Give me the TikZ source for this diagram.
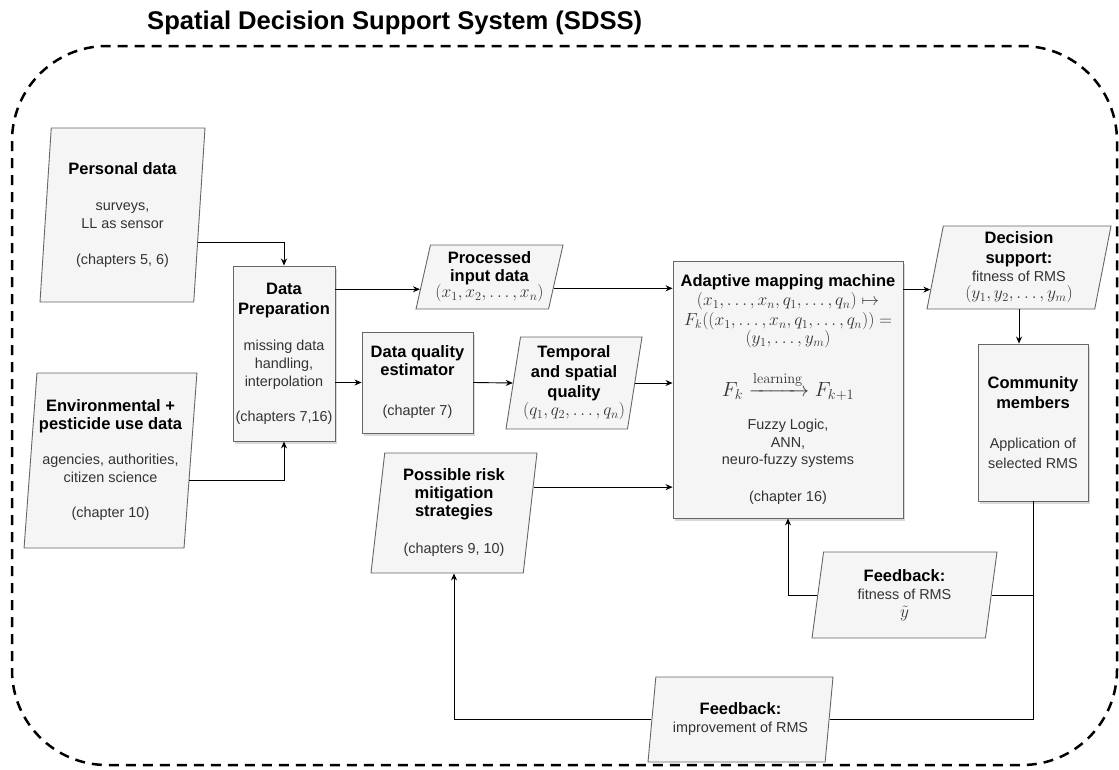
\RequirePackage{fix-cm}
\documentclass[tikz,border=0pt]{standalone}
\usepackage[no-math]{fontspec}
\setmainfont{Liberation Sans}
\usepackage{amsmath}
\usetikzlibrary{shapes.geometric,arrows.meta,shadows}
\definecolor{boxfill}{HTML}{F5F5F5}
\definecolor{boxline}{HTML}{666666}
\definecolor{bodytext}{HTML}{333333}
% heading lines inside the boxes
\newcommand{\hd}{\fontsize{16.5}{19}\selectfont\bfseries\color{black}}
% formula lines
\newcommand{\mth}{\fontsize{17.5}{18}\selectfont}

\begin{document}
\begin{tikzpicture}[x=1pt,y=-1pt,
  every node/.style={align=center,font=\fontsize{14.4}{18}\selectfont,text=bodytext,inner sep=2pt},
  stage/.style={rectangle,draw=boxline,fill=boxfill,line width=0.9pt,drop shadow={shadow xshift=2pt,shadow yshift=-2.5pt,opacity=0.3}},
  dataio/.style={trapezium,trapezium stretches body,draw=boxline,fill=boxfill,line width=0.9pt,trapezium left angle=#1,trapezium right angle={180-#1}},
  link/.style={line width=0.9pt,black},
  >={Stealth[length=7pt,width=6pt]}]
  \useasboundingbox (0,0) rectangle (1119,769);

  % system border
  \node[font=\fontsize{25.6}{30}\selectfont\bfseries,text=black,anchor=base west,inner sep=0pt] (title) at (147,29) {Spatial Decision Support System (SDSS)};
  \draw[line width=2.5pt,dash pattern=on 10pt off 7pt,rounded corners=95pt] (12,46) rectangle (1117,765);

  % inputs
  \node[dataio=84.1,minimum width=165,minimum height=174] (pers) at (122.5,215) {{\hd Personal data}\\[18pt]surveys,\\LL as sensor\\[18pt](chapters 5, 6)};
  \node[dataio=84.1,minimum width=165,minimum height=175] (env) at (110.5,460.5) {{\hd Environmental +}\\{\hd pesticide use data}\\[17pt]agencies, authorities,\\citizen science\\[17pt](chapter 10)};

  % processing chain
  \node[stage,minimum width=102,minimum height=175] (prep) at (284,353.5) {{\hd Data}\\[2pt]{\hd Preparation}\\[18pt]missing data\\handling,\\interpolation\\[17pt](chapters 7,16)};
  \node[dataio=75.1,minimum width=147,minimum height=64] (indata) at (489.5,277) {{\hd Processed}\\{\hd input data}\\[-2pt]{\mth$(x_1,x_2,\ldots,x_n)$}};
  \node[stage,minimum width=111,minimum height=101] (dqe) at (417.5,382.5) {{\hd Data quality}\\{\hd estimator}\\[22pt](chapter 7)};
  \node[dataio=79.5,minimum width=136,minimum height=92] (temp) at (574,383) {{\hd Temporal}\\[2pt]{\hd and spatial}\\[2pt]{\hd quality}\\[0pt]{\mth$(q_1,q_2,\ldots,q_n)$}};
  \node[dataio=81.5,minimum width=166,minimum height=120] (risk) at (454,513) {{\hd Possible risk}\\{\hd mitigation}\\{\hd strategies}\\[19pt](chapters 9, 10)};

  \node[stage,minimum width=230,minimum height=257] (amm) at (788,389.5) {{\hd Adaptive mapping machine}\\[1pt]
    {\mth$(x_1,\ldots,x_n,q_1,\ldots,q_n)\mapsto$}\\[2pt]
    {\mth$F_k((x_1,\ldots,x_n,q_1,\ldots,q_n))=$}\\[0pt]
    {\mth$(y_1,\ldots,y_m)$}\\[22pt]
    {\fontsize{20.5}{20}\selectfont$F_k\xrightarrow{\mathrm{learning}}F_{k+1}$}\\[15pt]
    Fuzzy Logic,\\ANN,\\neuro-fuzzy systems\\[18pt]
    (chapter 16)};

  % outputs and feedback
  \node[dataio=77.8,minimum width=184,minimum height=83] (dec) at (1019,267.5) {{\hd Decision}\\[2pt]{\hd support:}\\fitness of RMS\\[-1pt]{\mth$(y_1,y_2,\ldots,y_m)$}};
  \node[stage,minimum width=110,minimum height=157] (comm) at (1033,422.5) {{\hd Community}\\[2pt]{\hd members}\\[22pt]Application of\\[2pt]selected RMS};
  \node[dataio=78.2,minimum width=185,minimum height=86] (fb1) at (904.5,595) {{\hd Feedback:}\\fitness of RMS\\{\mth$\tilde{y}$}};
  \node[dataio=78,minimum width=185,minimum height=85] (fb2) at (740.5,719.5) {{\hd Feedback:}\\improvement of RMS};

  \draw[link,->] (pers.-20) -| (prep.north);
  \draw[link,->] (env.-14) -| (prep.south);
  \draw[link,->] (prep.east |- indata.190) -- (indata.190);
  \draw[link,->] (indata.-10) -- (indata.-10 -| amm.west);
  \draw[link,->] (prep.east |- dqe.west) -- (dqe.west);
  \draw[link,->] (dqe.east) -- (temp.west);
  \draw[link,->] (temp.east) -- (temp.east -| amm.west);
  \draw[link,->] (risk.18) -- (risk.18 -| amm.west);
  \draw[link,->] (amm.east |- dec.194) -- (dec.194);
  \draw[link,->] (dec.south) -- (dec.south |- comm.north);
  \draw[link] (comm.south) |- (fb1.east);
  \draw[link] (comm.south) |- (fb2.east);
  \draw[link,->] (fb1.west) -| (amm.south);
  \draw[link,->] (fb2.west) -| (risk.south);
\end{tikzpicture}
\end{document}
